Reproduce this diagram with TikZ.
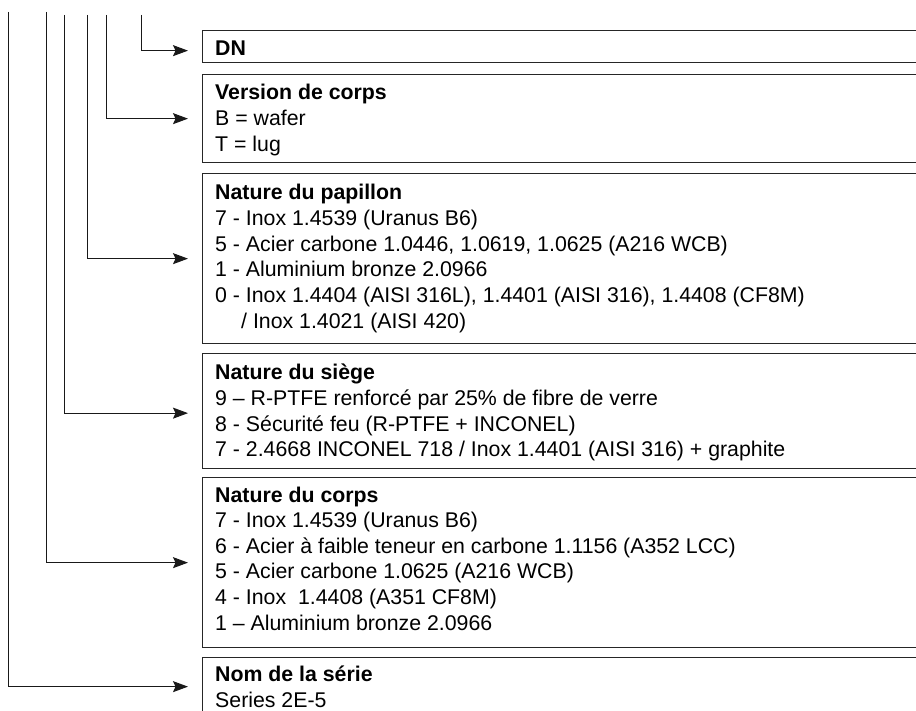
\documentclass[tikz,border=0pt]{standalone}
\usepackage{fontspec}
\setmainfont{Liberation Sans}
\usetikzlibrary{arrows.meta}
\begin{document}
\begin{tikzpicture}[x=1pt,y=-1pt,
  box/.style={draw=black!85, line width=1.3pt, anchor=north west, minimum width=730pt, inner sep=0pt},
  ttl/.style={anchor=base west, inner sep=0pt, font=\bfseries\fontsize{21.3}{25}\selectfont},
  itm/.style={anchor=base west, inner sep=0pt, font=\fontsize{21.3}{25}\selectfont},
  conn/.style={line width=1pt, draw=black!90, shorten >=14pt, -{Stealth[length=15pt,width=11pt,inset=2.5pt]}}]
\useasboundingbox (0,0) rectangle (916,711);

% boxes
\node[box, minimum height=32pt]  (dn)  at (202,30)  {};
\node[box, minimum height=88pt]  (ver) at (202,74)  {};
\node[box, minimum height=170pt] (pap) at (202,173) {};
\node[box, minimum height=115pt] (sie) at (202,353) {};
\node[box, minimum height=170pt] (cor) at (202,477) {};
\node[box, minimum height=80pt]  (ser) at (202,657) {};

% texts
\node[ttl] (tdn) at (215,55.5) {DN};

\node[ttl] (tver) at (215,99.5) {Version de corps};
\node[itm] (tver1) at (215,125.3) {B = wafer};
\node[itm] (tver2) at (215,151.1) {T = lug};

\node[ttl] (tpap) at (215,199.5) {Nature du papillon};
\node[itm] (tpap1) at (215,225.3) {7 - Inox 1.4539 (Uranus B6)};
\node[itm] (tpap2) at (215,251.1) {5 - Acier carbone 1.0446, 1.0619, 1.0625 (A216 WCB)};
\node[itm] (tpap3) at (215,276.9) {1 - Aluminium bronze 2.0966};
\node[itm] (tpap4) at (215,302.7) {0 - Inox 1.4404 (AISI 316L), 1.4401 (AISI 316), 1.4408 (CF8M)};
\node[itm] (tpap5) at (241,328.5) {/ Inox 1.4021 (AISI 420)};

\node[ttl] (tsie) at (215,379.5) {Nature du siège};
\node[itm] (tsie1) at (215,405.3) {9 – R-PTFE renforcé par 25\% de fibre de verre};
\node[itm] (tsie2) at (215,431.1) {8 - Sécurité feu (R-PTFE + INCONEL)};
\node[itm] (tsie3) at (215,456.9) {7 - 2.4668 INCONEL 718 / Inox 1.4401 (AISI 316) + graphite};

\node[ttl] (tcor) at (215,502) {Nature du corps};
\node[itm] (tcor1) at (215,527.6) {7 - Inox 1.4539 (Uranus B6)};
\node[itm] (tcor2) at (215,553.2) {6 - Acier à faible teneur en carbone 1.1156 (A352 LCC)};
\node[itm] (tcor3) at (215,578.8) {5 - Acier carbone 1.0625 (A216 WCB)};
\node[itm] (tcor4) at (215,604.4) {4 - Inox \ 1.4408 (A351 CF8M)};
\node[itm] (tcor5) at (215,630) {1 – Aluminium bronze 2.0966};

\node[ttl] (tser) at (215,681.5) {Nom de la série};
\node[itm] (tser1) at (215,707.5) {Series 2E-5};

% connector start points
\coordinate (s6) at (141,15);
\coordinate (s5) at (106,15);
\coordinate (s4) at (87,15);
\coordinate (s3) at (64,15);
\coordinate (s2) at (46,12);
\coordinate (s1) at (8,12);

\draw[conn] (s6) |- ([yshift=-4pt]dn.west);
\draw[conn] (s5) |- (ver.west);
\draw[conn] (s4) |- (pap.west);
\draw[conn] (s3) |- ([yshift=-2pt]sie.west);
\draw[conn] (s2) |- (cor.west);
\draw[conn] (s1) |- ([yshift=11pt]ser.west);
\end{tikzpicture}
\end{document}
